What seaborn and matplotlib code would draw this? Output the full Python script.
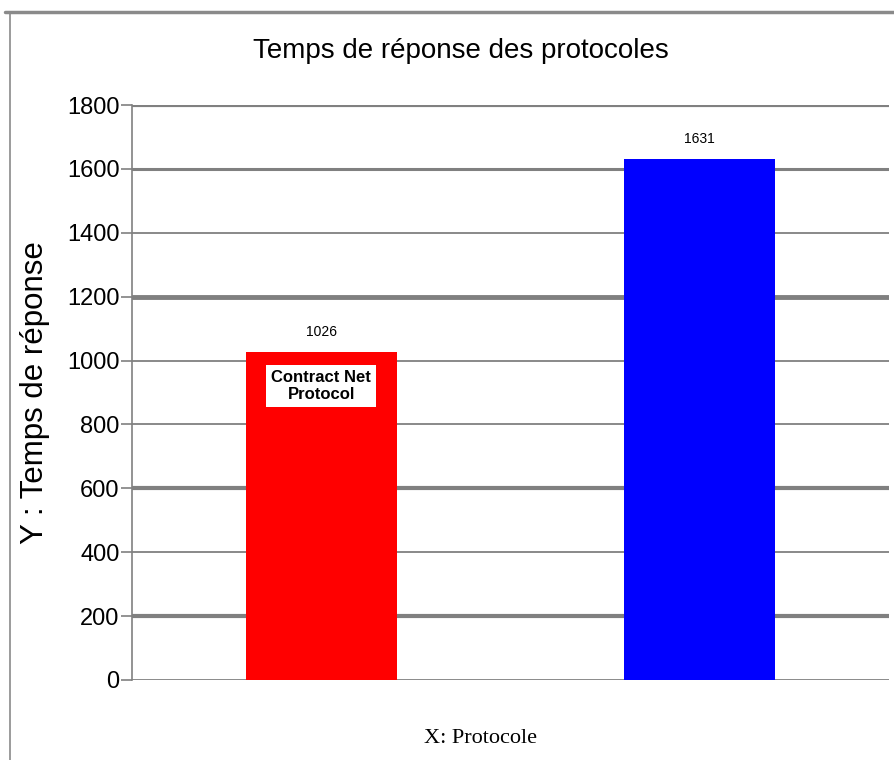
import matplotlib
matplotlib.use("Agg")
import matplotlib.pyplot as plt
import seaborn as sns
import pandas as pd
from matplotlib.lines import Line2D

# data
protocols = ["Contract Net Protocol", "Autre protocole"]
temps = [1026, 1631]
colors = ["#ff0000", "#0000ff"]
yticks = [0, 200, 400, 600, 800, 1000, 1200, 1400, 1600, 1800]

df = pd.DataFrame({"protocole": protocols, "temps": temps})

sns.set_style("white")
plt.rcParams["font.family"] = ["Liberation Sans", "DejaVu Sans"]
plt.rcParams["text.color"] = "black"
plt.rcParams["axes.labelcolor"] = "black"
plt.rcParams["ytick.color"] = "black"

fig = plt.figure(figsize=(8.94, 7.6), dpi=100)
ax = fig.add_axes([0.1477, 0.1053, 0.8467, 0.7565])

sns.barplot(data=df, x="protocole", y="temps", hue="protocole", palette=colors,
            width=0.4, legend=False, ax=ax, zorder=3, saturation=1, linewidth=0)

ax.set_ylim(0, 1800)
ax.set_xlim(-0.5, 1.5)
ax.set_yticks(yticks)

# gridlines, some drawn heavier like the original
gw = {0: 2.0, 200: 3.0, 400: 1.3, 600: 3.0, 800: 1.3, 1000: 1.3, 1200: 3.5, 1400: 1.3, 1600: 2.2, 1800: 3.0}
for v in yticks:
    ax.axhline(v, color="#808080", lw=gw[v], zorder=1)

for s in ["top", "right", "bottom"]:
    ax.spines[s].set_visible(False)
ax.spines["left"].set_color("#808080")
ax.spines["left"].set_linewidth(1.2)

ax.tick_params(axis="y", left=True, length=8, width=1.2, color="#808080",
               labelcolor="black", pad=1, labelsize=17)
ax.set_xticks([])
ax.set_xlabel("")
ax.set_ylabel("Y : Temps de réponse", fontsize=22.5)
ax.yaxis.set_label_coords(-0.108, 0.5)

fig.text(0.537, 0.028, "X: Protocole", ha="center", va="center", fontsize=16,
         family="Liberation Serif")

fig.text(0.515, 0.933, "Temps de réponse des protocoles", ha="center", va="center",
         fontsize=20)

for i, v in enumerate(temps):
    ax.text(i, v + 40, str(v), ha="center", va="bottom", fontsize=10, zorder=5)

ax.text(0, 920, "Contract Net\nProtocol", ha="center", va="center", fontsize=12,
        fontweight="bold", zorder=6, linespacing=1.2,
        bbox=dict(boxstyle="square,pad=0.3", fc="white", ec="none"))

# outer frame
fig.add_artist(Line2D([0.006, 1.0], [0.984, 0.984], color="#8a8a8a", lw=2.5, transform=fig.transFigure))
fig.add_artist(Line2D([0.011, 0.011], [0.0, 0.984], color="#8a8a8a", lw=1.2, transform=fig.transFigure))

fig.savefig("out.png", dpi=100)
